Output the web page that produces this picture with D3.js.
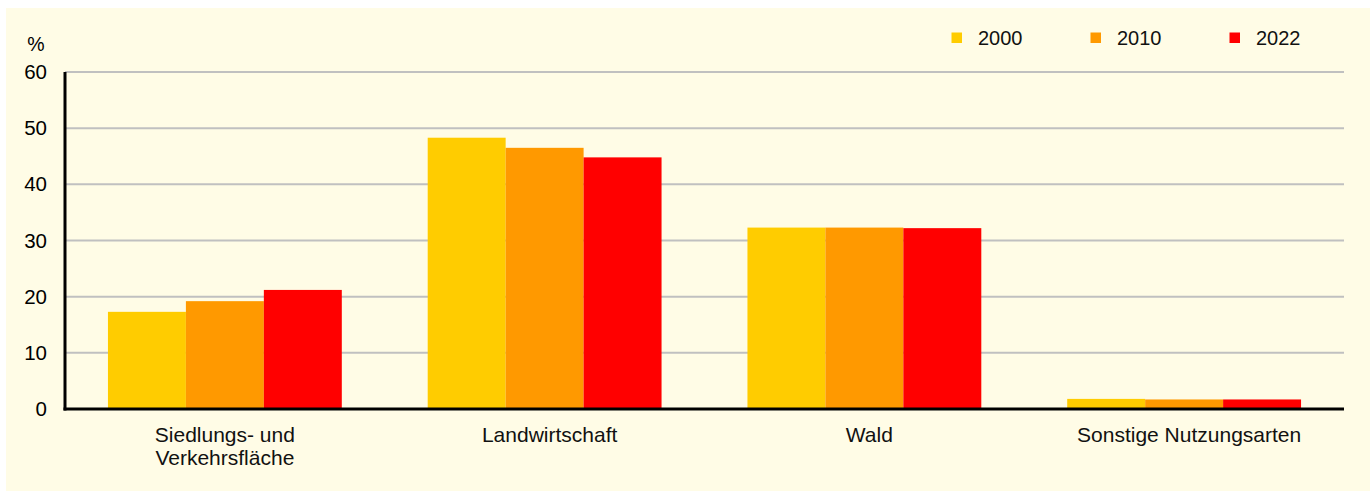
<!DOCTYPE html>
<html>
<head>
<meta charset="utf-8">
<script src="https://cdn.jsdelivr.net/npm/d3@7"></script>
<style>
  html, body { margin: 0; padding: 0; background: #ffffff; }
  svg { display: block; font-family: Arial, "Liberation Sans", sans-serif; }
</style>
</head>
<body>
<svg id="chart" width="1370" height="491"></svg>
<script>
const categories = [["Siedlungs- und", "Verkehrsfläche"], ["Landwirtschaft"], ["Wald"], ["Sonstige Nutzungsarten"]];
const years = ["2000", "2010", "2022"];
const values2000 = [17.3, 48.3, 32.3, 1.8];
const values2010 = [19.2, 46.5, 32.3, 1.7];
const values2022 = [21.2, 44.8, 32.2, 1.7];
const yTicks = [0, 10, 20, 30, 40, 50, 60];
const colors = ["#FFCC00", "#FF9900", "#FF0000"];

(function () {
const series = [values2000, values2010, values2022];
const svg = d3.select("#chart");

svg.append("rect").attr("x", 6).attr("y", 8).attr("width", 1364).attr("height", 483).attr("fill", "#FFFCE6");

const pLeft = 65, pRight = 1344, pTop = 72, pBottom = 409;
const catKeys = categories.map((c, i) => i);
const x0 = d3.scaleBand().domain(catKeys).range([pLeft, pRight]).paddingInner(0).paddingOuter(0);
const x1 = d3.scaleBand().domain(years).range([0, x0.bandwidth()]).paddingInner(0).paddingOuter(0.551);
const y = d3.scaleLinear().domain([0, 60]).range([pBottom, pTop]);

// gridlines
svg.append("g").selectAll("line").data(yTicks.filter(d => d > 0)).join("line")
  .attr("x1", pLeft).attr("x2", pRight)
  .attr("y1", d => y(d)).attr("y2", d => y(d))
  .attr("stroke", "#c0c0c0").attr("stroke-width", 2);

// bars
const groups = svg.append("g").selectAll("g").data(catKeys).join("g")
  .attr("transform", d => `translate(${x0(d)},0)`);
groups.selectAll("rect").data(ci => years.map((yr, si) => ({ yr, si, v: series[si][ci] }))).join("rect")
  .attr("x", d => x1(d.yr)).attr("width", x1.bandwidth())
  .attr("y", d => y(d.v)).attr("height", d => y(0) - y(d.v))
  .attr("fill", d => colors[d.si]);

// y axis tick labels
const yAxis = d3.axisLeft(y).tickValues(yTicks).tickSize(0).tickPadding(18);
const ya = svg.append("g").attr("transform", `translate(${pLeft},0)`).call(yAxis);
ya.select(".domain").remove();
ya.selectAll("text").attr("font-size", 20.5).attr("fill", "#000").attr("font-family", "Arial, 'Liberation Sans', sans-serif");

// axis lines
svg.append("line").attr("x1", pLeft).attr("x2", pLeft).attr("y1", pTop).attr("y2", pBottom + 1.5)
  .attr("stroke", "#000").attr("stroke-width", 3);
svg.append("line").attr("x1", pLeft - 1.5).attr("x2", pRight).attr("y1", pBottom).attr("y2", pBottom)
  .attr("stroke", "#000").attr("stroke-width", 3);

// unit
svg.append("text").attr("x", 36).attr("y", 51).attr("text-anchor", "middle")
  .attr("font-size", 19.5).attr("fill", "#000").text("%");

// category labels
const labelX = d => x0(d) + x0.bandwidth() / 2 + (categories[d].length > 1 ? 0 : 5);
const cl = svg.append("g").selectAll("text").data(catKeys).join("text")
  .attr("x", d => labelX(d))
  .attr("y", 442)
  .attr("text-anchor", "middle").attr("font-size", 21).attr("fill", "#111");
cl.selectAll("tspan").data(d => categories[d].map((t, i) => ({ t, i, d }))).join("tspan")
  .attr("x", d => labelX(d.d))
  .attr("dy", d => d.i === 0 ? 0 : 23)
  .text(d => d.t);

// legend
const legend = svg.append("g").selectAll("g").data(years).join("g")
  .attr("transform", (d, i) => `translate(${951.5 + i * 139},0)`);
legend.append("rect").attr("x", 0).attr("y", 32.5).attr("width", 10.5).attr("height", 10.5)
  .attr("fill", (d, i) => colors[i]);
legend.append("text").attr("x", 26.5).attr("y", 44.5).attr("font-size", 20).attr("fill", "#111").text(d => d);
})();
</script>
</body>
</html>
